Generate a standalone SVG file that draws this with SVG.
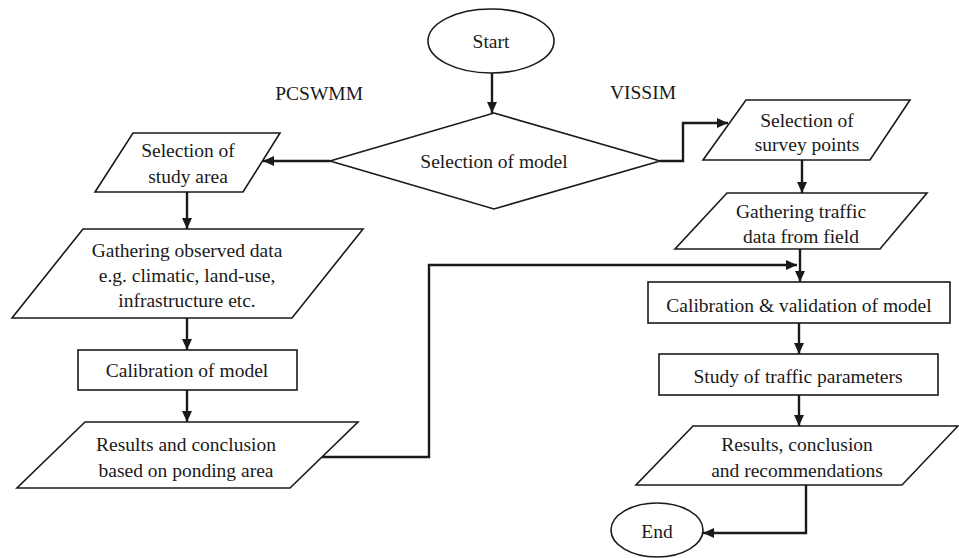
<svg xmlns="http://www.w3.org/2000/svg" width="959" height="558" viewBox="0 0 959 558">
<defs>
<marker id="ah" markerUnits="userSpaceOnUse" markerWidth="12" markerHeight="10" refX="11" refY="5" orient="auto">
<path d="M0,0 L11,5 L0,10 Z" fill="#1a1a1a"/>
</marker>
<style>
.s{fill:#fff;stroke:#1a1a1a;stroke-width:1.6}
.c{fill:none;stroke:#1a1a1a;stroke-width:2.4}
.a{marker-end:url(#ah)}
text{font-family:"Liberation Serif","Times New Roman",serif;font-size:19.5px;fill:#1a1a1a;text-anchor:middle}
</style>
</defs>
<rect width="959" height="558" fill="#fff"/>
<g id="connectors">
<path class="c a" d="M492,73 L492,113"/>
<path class="c a" d="M330,161 L263,161"/>
<path class="c a" d="M660,161 L683,161 L683,123 L728,123"/>
<path class="c a" d="M187,192 L187,229"/>
<path class="c a" d="M187,318 L187,350"/>
<path class="c a" d="M187,390 L187,422"/>
<path class="c a" d="M802,160 L802,193"/>
<path class="c a" d="M800,249 L800,282"/>
<path class="c a" d="M322,457 L429,457 L429,265 L797,265"/>
<path class="c a" d="M799,323 L799,354"/>
<path class="c a" d="M799,395 L799,426"/>
<path class="c a" d="M806,485 L806,533 L703,533"/>
</g>
<g id="start"><ellipse class="s" cx="491" cy="41" rx="63" ry="32"/><text x="491" y="48">Start</text></g>
<g id="decision"><polygon class="s" points="494,113 660,161 494,209 330,161"/><text x="494" y="168">Selection of model</text></g>
<g id="lbl-pcswmm"><text x="363" y="100" style="text-anchor:end">PCSWMM</text></g>
<g id="lbl-vissim"><text x="643" y="99">VISSIM</text></g>
<g id="study-area"><polygon class="s" points="133,133 280,133 243,192 95,192"/><text x="188" y="157">Selection of</text><text x="188" y="183">study area</text></g>
<g id="gather-obs"><polygon class="s" points="83,229 363,229 292,318 12,318"/><text x="187" y="257">Gathering observed data</text><text x="187" y="282">e.g. climatic, land-use,</text><text x="187" y="307">infrastructure etc.</text></g>
<g id="calib"><rect class="s" x="78" y="350" width="219" height="40"/><text x="187" y="377">Calibration of model</text></g>
<g id="results-left"><polygon class="s" points="85,422 358,422 290,488 17,488"/><text x="186" y="451">Results and conclusion</text><text x="186" y="477">based on ponding area</text></g>
<g id="survey"><polygon class="s" points="746,100 910,100 870,160 703,160"/><text x="807" y="127">Selection of</text><text x="807" y="151">survey points</text></g>
<g id="gather-traffic"><polygon class="s" points="727,193 927,193 880,249 675,249"/><text x="801" y="218">Gathering traffic</text><text x="801" y="243">data from field</text></g>
<g id="calval"><rect class="s" x="648" y="282" width="302" height="41"/><text x="799" y="312">Calibration &amp; validation of model</text></g>
<g id="study-traffic"><rect class="s" x="659" y="354" width="279" height="41"/><text x="798" y="383">Study of traffic parameters</text></g>
<g id="results-right"><polygon class="s" points="693,426 958,426 902,485 636,485"/><text x="797" y="451">Results, conclusion</text><text x="797" y="477">and recommendations</text></g>
<g id="end"><ellipse class="s" cx="657" cy="530" rx="46" ry="27"/><text x="657" y="538">End</text></g>
</svg>
